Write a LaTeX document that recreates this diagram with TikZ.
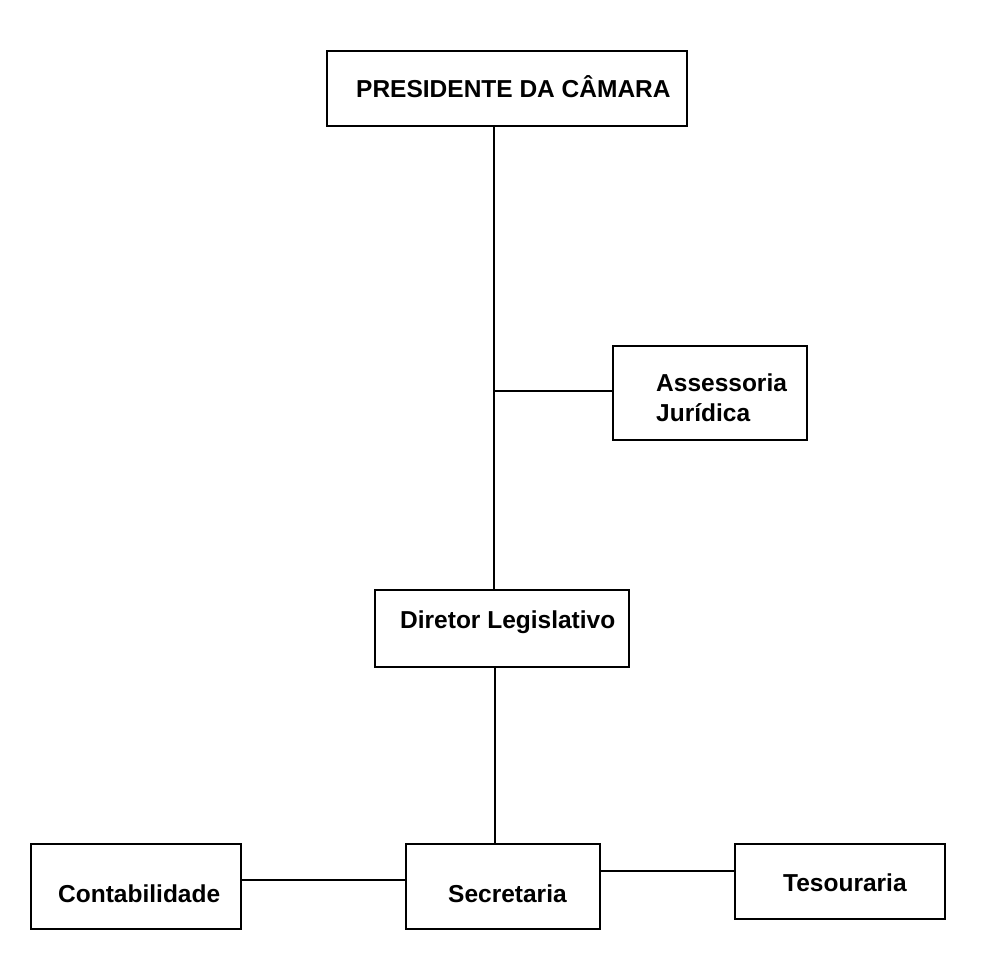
\documentclass[tikz,border=0pt]{standalone}
\usepackage{fontspec}
\setmainfont{Liberation Sans}
\begin{document}
\begin{tikzpicture}[x=1pt,y=-1pt,
  box/.style={draw,line width=1.4pt,inner sep=0pt},
  txt/.style={font=\fontsize{24.5}{30}\selectfont\bfseries,inner sep=0pt,align=left},
  conn/.style={line width=1.4pt}]
\useasboundingbox[fill=white] (0,0) rectangle (1007,956);
% boxes
\node[box,minimum width=360,minimum height=75] (pres) at (507,88.5) {};
\node[box,minimum width=194,minimum height=94] (asse) at (710,393) {};
\node[box,minimum width=254,minimum height=77] (dir) at (502,628.5) {};
\node[box,minimum width=210,minimum height=85] (cont) at (136,886.5) {};
\node[box,minimum width=194,minimum height=85] (sec) at (503,886.5) {};
\node[box,minimum width=210,minimum height=75] (teso) at (840,881.5) {};
% texts
\node[txt,anchor=base west] (presT) at (356,97) {PRESIDENTE DA CÂMARA};
\node[txt,anchor=base west] (asseT1) at (656,391) {Assessoria};
\node[txt,anchor=base west] (asseT2) at (656,421) {Jurídica};
\node[txt,anchor=base west] (dirT) at (400,628) {Diretor Legislativo};
\node[txt,anchor=base west] (contT) at (58,902) {Contabilidade};
\node[txt,anchor=base west] (secT) at (448,902) {Secretaria};
\node[txt,anchor=base west] (tesoT) at (783,891) {Tesouraria};
% connectors
\coordinate (top) at ([xshift=-13pt]pres.south);
\coordinate (bot) at (top |- dir.north);
\draw[conn] (top) -- (bot);
\draw[conn] ([yshift=2pt]asse.west) -- ([yshift=2pt]asse.west -| top);
\draw[conn] ([xshift=-7pt]dir.south) -- ([xshift=-7pt]dir.south |- sec.north);
\draw[conn] ([yshift=6.5pt]cont.east) -- ([yshift=6.5pt]cont.east -| sec.west);
\draw[conn] ([yshift=10.5pt]teso.west) -- ([yshift=10.5pt]teso.west -| sec.east);
\end{tikzpicture}
\end{document}
